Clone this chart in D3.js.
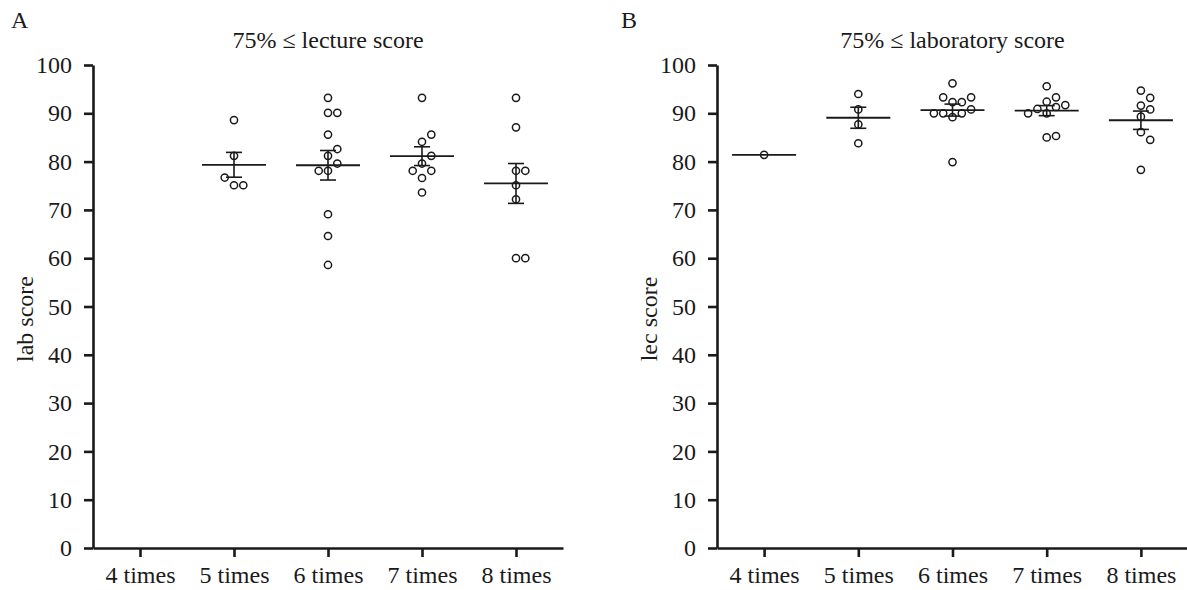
<!DOCTYPE html>
<html>
<head>
<meta charset="utf-8">
<script src="https://cdn.jsdelivr.net/npm/d3@7"></script>
<style>
  body { margin: 0; background: #fff; }
  text { font-family: "Liberation Serif", "Times New Roman", serif; fill: #1a1a1a; }
</style>
</head>
<body>
<svg id="chart" width="1187" height="590"></svg>
<script>
// categories (number of attendances) and y ticks
const categories = ["4 times", "5 times", "6 times", "7 times", "8 times"];
const yTicks = [0, 10, 20, 30, 40, 50, 60, 70, 80, 90, 100];

// panel A: lab score of students with lecture score >= 75%
const labScores = [
  [],
  [88.6, 81.2, 75.1, 75.1, 76.7],
  [93.2, 90.1, 90.1, 85.6, 81.2, 82.6, 78.1, 79.6, 78.1, 69.1, 64.6, 58.6],
  [93.2, 84.1, 79.6, 81.2, 85.6, 78.1, 78.1, 76.6, 73.6],
  [93.2, 87.1, 78.1, 78.1, 75.1, 72.2, 60.0, 60.0]
];

// panel B: lecture score of students with laboratory score >= 75%
const lecScores = [
  [81.4],
  [94.0, 90.8, 87.7, 83.8],
  [96.2, 92.3, 92.3, 89.2, 90.0, 90.0, 90.8, 90.0, 93.3, 93.3, 79.9],
  [95.6, 92.4, 93.3, 91.3, 90.0, 90.9, 91.7, 90.0, 85.0, 85.3],
  [94.7, 93.2, 91.6, 90.8, 89.3, 86.1, 84.5, 78.3]
];

const panels = [
  {letter: "A", letterX: 11, title: "75% \u2264 lecture score", yLabel: "lab score", values: labScores, left: 93, right: 563},
  {letter: "B", letterX: 621, title: "75% \u2264 laboratory score", yLabel: "lec score", values: lecScores, left: 717, right: 1188}
];

const plotTop = 65, plotBottom = 548;
const ink = "#1a1a1a";
const fontSize = 24;
const laneStep = 9.3, minGap = 8.5; // dot spreading

const svg = d3.select("#chart");

const y = d3.scaleLinear().domain([0, 100]).range([plotBottom, plotTop]);

// spread overlapping dots sideways in lanes 0, +1, -1, +2, -2 ...
function spread(vals){
  const placed = [];
  return vals.map(v => {
    for (let k = 0; k < 20; k++){
      let lane = k === 0 ? 0 : (k % 2 ? (k + 1) / 2 : -k / 2);
      let hit = placed.some(p => p.lane === lane && Math.abs(y(p.v) - y(v)) < minGap);
      if (!hit){ placed.push({v, lane}); return {v, lane}; }
    }
  });
}

panels.forEach(p => {
  const g = svg.append("g");

  const x = d3.scalePoint()
    .domain(categories)
    .range([p.left, p.right])
    .padding(0.5);

  // axes
  const yAxis = d3.axisLeft(y).tickValues(yTicks).tickSize(9).tickSizeOuter(0).tickPadding(12);
  const xAxis = d3.axisBottom(x).tickSize(9).tickSizeOuter(0).tickPadding(9);

  g.append("g")
    .attr("transform", "translate(0," + plotBottom + ")")
    .call(xAxis);

  g.append("g")
    .attr("transform", "translate(" + p.left + ",0)")
    .call(yAxis);

  g.selectAll(".domain, .tick line")
    .attr("stroke", ink)
    .attr("stroke-width", 2.6);
  g.selectAll(".tick text")
    .attr("font-size", fontSize)
    .attr("font-family", "Liberation Serif, serif")
    .attr("fill", ink);

  // dots, mean and SEM per group
  p.values.forEach((vals, i) => {
    const cx = x(categories[i]);
    const gg = g.append("g");
    if (!vals.length) return;

    const mean = d3.mean(vals);
    const sem = vals.length > 1 ? d3.deviation(vals) / Math.sqrt(vals.length) : 0;

    gg.selectAll("circle")
      .data(spread(vals))
      .join("circle")
      .attr("cx", d => cx + d.lane * laneStep)
      .attr("cy", d => y(d.v))
      .attr("r", 3.6)
      .attr("fill", "none")
      .attr("stroke", ink)
      .attr("stroke-width", 1.5);

    gg.append("line")
      .attr("x1", cx - 32).attr("x2", cx + 32)
      .attr("y1", y(mean)).attr("y2", y(mean))
      .attr("stroke", ink).attr("stroke-width", 1.8);

    if (sem > 0){
      gg.append("line")
        .attr("x1", cx).attr("x2", cx)
        .attr("y1", y(mean + sem)).attr("y2", y(mean - sem))
        .attr("stroke", ink).attr("stroke-width", 1.6);
      gg.selectAll(".cap")
        .data([mean + sem, mean - sem])
        .join("line")
        .attr("class", "cap")
        .attr("x1", cx - 8).attr("x2", cx + 8)
        .attr("y1", d => y(d)).attr("y2", d => y(d))
        .attr("stroke", ink).attr("stroke-width", 1.6);
    }
  });

  // texts
  g.append("text")
    .attr("x", (p.left + p.right) / 2)
    .attr("y", 48)
    .attr("text-anchor", "middle")
    .attr("font-size", fontSize)
    .text(p.title);

  g.append("text")
    .attr("x", p.letterX)
    .attr("y", 28)
    .attr("font-size", fontSize)
    .text(p.letter);

  g.append("text")
    .attr("transform", "translate(" + (p.left - 60) + ",319) rotate(-90)")
    .attr("text-anchor", "middle")
    .attr("font-size", fontSize)
    .text(p.yLabel);
});
</script>
</body>
</html>
